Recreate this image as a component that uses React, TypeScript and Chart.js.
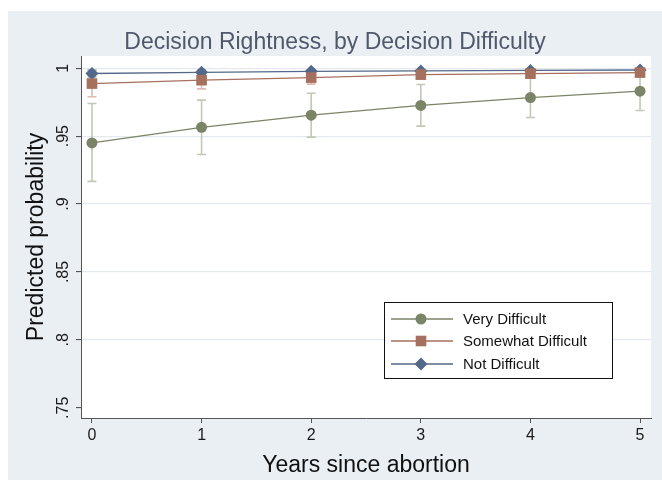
import React, { useEffect, useRef } from 'react';
import { Chart, registerables } from 'chart.js';
Chart.register(...registerables);

const TITLE = 'Decision Rightness, by Decision Difficulty';
const X_TITLE = 'Years since abortion';
const Y_TITLE = 'Predicted probability';

const YEARS = [0, 1, 2, 3, 4, 5];
const SERIES_LABELS = ['Very Difficult', 'Somewhat Difficult', 'Not Difficult'];

const VERY = [0.945, 0.9565, 0.9654, 0.9726, 0.9784, 0.9831];
const VERY_LO = [0.9167, 0.9365, 0.9493, 0.9574, 0.9637, 0.9689];
const VERY_HI = [0.974, 0.9765, 0.9816, 0.988, 0.9928, 0.9973];

const SOMEWHAT = [0.9887, 0.9912, 0.9931, 0.9953, 0.996, 0.9968];
const SOMEWHAT_LO = [0.979, 0.9848, 0.9883, 0.992, 0.9938, 0.995];
const SOMEWHAT_HI = [0.9984, 0.9976, 0.9979, 0.9986, 0.9982, 0.9986];

const NOT = [0.9961, 0.997, 0.9977, 0.998, 0.9984, 0.9987];
const NOT_LO = [0.9935, 0.9953, 0.9966, 0.9972, 0.9976, 0.9978];
const NOT_HI = [0.9987, 0.9987, 0.9988, 0.9988, 0.9992, 0.9996];

const Y_TICKS = [0.75, 0.8, 0.85, 0.9, 0.95, 1];
const Y_TICK_LABELS = ['.75', '.8', '.85', '.9', '.95', '1'];

const COLORS = ['#7B8466', '#A6705F', '#54698A'];
const ERR_COLORS = ['#C3C8B6', '#E0BAB0', '#A9B4C4'];
const POINT_STYLES = ['circle', 'rect', 'rectRot'];
const POINT_RADII = [5.5, 7.5, 6.5];

const FONT = '"Liberation Sans", Arial, Helvetica, sans-serif';

export default function App() {
  const ref = useRef<HTMLCanvasElement>(null);

  useEffect(() => {
    const canvas = ref.current!;
    const values = [VERY, SOMEWHAT, NOT];
    const lows = [VERY_LO, SOMEWHAT_LO, NOT_LO];
    const highs = [VERY_HI, SOMEWHAT_HI, NOT_HI];

    const errBars = {
      id: 'errBars',
      beforeDatasetsDraw(chart: any) {
        const { ctx, scales } = chart;
        const xs = scales.x, ys = scales.y;
        ctx.save();
        for (let s = 0; s < 3; s++) {
          ctx.strokeStyle = ERR_COLORS[s];
          ctx.lineWidth = 1.6;
          for (let i = 0; i < YEARS.length; i++) {
            const px = xs.getPixelForValue(YEARS[i]);
            const lo = ys.getPixelForValue(lows[s][i]);
            const hi = ys.getPixelForValue(highs[s][i]);
            ctx.beginPath();
            ctx.moveTo(px, lo); ctx.lineTo(px, hi);
            ctx.moveTo(px - 4.5, lo); ctx.lineTo(px + 4.5, lo);
            ctx.moveTo(px - 4.5, hi); ctx.lineTo(px + 4.5, hi);
            ctx.stroke();
          }
        }
        ctx.restore();
      },
    };

    const drawMarker = (ctx: CanvasRenderingContext2D, s: number, x: number, y: number) => {
      ctx.fillStyle = COLORS[s];
      ctx.beginPath();
      if (s === 0) {
        ctx.arc(x, y, POINT_RADII[0], 0, Math.PI * 2);
      } else if (s === 1) {
        const h = POINT_RADII[1] * Math.SQRT1_2;
        ctx.rect(x - h, y - h, 2 * h, 2 * h);
      } else {
        const r = POINT_RADII[2];
        ctx.moveTo(x, y - r); ctx.lineTo(x + r, y); ctx.lineTo(x, y + r); ctx.lineTo(x - r, y); ctx.closePath();
      }
      ctx.fill();
    };

    const decor = {
      id: 'decor',
      beforeDraw(chart: any) {
        const { ctx, chartArea: a, width, height } = chart;
        ctx.save();
        ctx.fillStyle = '#EAEFF3';
        ctx.fillRect(0, 0, width, height);
        ctx.fillStyle = '#FFFFFF';
        ctx.fillRect(a.left, a.top, a.right - a.left, a.bottom - a.top);
        ctx.restore();
      },
      afterDraw(chart: any) {
        const { ctx, chartArea: a, width, scales } = chart;
        ctx.save();
        // title
        ctx.fillStyle = '#50586B';
        ctx.font = `23px ${FONT}`;
        ctx.textAlign = 'center';
        ctx.textBaseline = 'alphabetic';
        ctx.fillText(TITLE, width / 2, 38);
        // y tick labels
        ctx.fillStyle = '#1A1A1A';
        ctx.font = `16px ${FONT}`;
        Y_TICKS.forEach((v, i) => {
          const py = scales.y.getPixelForValue(v);
          ctx.save();
          ctx.translate(a.left - 13, py);
          ctx.rotate(-Math.PI / 2);
          ctx.textAlign = 'center';
          ctx.textBaseline = 'alphabetic';
          ctx.fillText(Y_TICK_LABELS[i], 0, 0);
          ctx.restore();
        });
        // y title
        ctx.fillStyle = '#111111';
        ctx.font = `23px ${FONT}`;
        ctx.save();
        ctx.translate(35, (a.top + a.bottom) / 2);
        ctx.rotate(-Math.PI / 2);
        ctx.textAlign = 'center';
        ctx.textBaseline = 'alphabetic';
        ctx.fillText(Y_TITLE, 0, 0);
        ctx.restore();
        // legend
        const lx = 376, ly = 291, lw = 228, lh = 76;
        ctx.fillStyle = '#FFFFFF';
        ctx.fillRect(lx, ly, lw, lh);
        ctx.strokeStyle = '#111111';
        ctx.lineWidth = 1;
        ctx.strokeRect(lx + 0.5, ly + 0.5, lw, lh);
        const rows = [308, 330, 353];
        ctx.font = `15px ${FONT}`;
        ctx.textAlign = 'left';
        ctx.textBaseline = 'middle';
        for (let s = 0; s < 3; s++) {
          const ry = rows[s];
          ctx.strokeStyle = COLORS[s];
          ctx.lineWidth = 1.3;
          ctx.beginPath();
          ctx.moveTo(lx + 7, ry); ctx.lineTo(lx + 69, ry);
          ctx.stroke();
          drawMarker(ctx, s, lx + 37, ry);
          ctx.fillStyle = '#111111';
          ctx.fillText(SERIES_LABELS[s], lx + 79, ry + 1);
        }
        ctx.restore();
      },
    };

    const datasets = [0, 1, 2].map((s) => ({
      label: SERIES_LABELS[s],
      data: YEARS.map((x, i) => ({ x, y: values[s][i] })),
      borderColor: COLORS[s],
      backgroundColor: COLORS[s],
      pointBackgroundColor: COLORS[s],
      pointBorderColor: COLORS[s],
      pointBorderWidth: 0,
      pointStyle: POINT_STYLES[s],
      pointRadius: POINT_RADII[s],
      borderWidth: 1.3,
      tension: 0,
      order: [2, 0, 1][s],
    }));

    const chart = new Chart(canvas, {
      type: 'line',
      data: { datasets },
      options: {
        animation: false,
        responsive: false,
        maintainAspectRatio: false,
        layout: { padding: { left: 0, right: 11, top: 45, bottom: 0 } },
        plugins: { legend: { display: false }, tooltip: { enabled: false }, title: { display: false } },
        scales: {
          x: {
            type: 'linear',
            min: -0.1,
            max: 5.1,
            afterBuildTicks: (scale: any) => { scale.ticks = YEARS.map((v) => ({ value: v })); },
            afterFit: (scale: any) => { scale.height = 62; },
            ticks: {
              autoSkip: false,
              maxRotation: 0,
              padding: 3,
              color: '#1A1A1A',
              font: { family: FONT, size: 16 },
              callback: (v: any) => String(v),
            },
            grid: { drawOnChartArea: false, drawTicks: true, tickLength: 5, tickColor: '#555555', tickWidth: 1 },
            border: { display: true, color: '#555555', width: 1 },
            title: {
              display: true,
              text: X_TITLE,
              color: '#111111',
              font: { family: FONT, size: 23, lineHeight: 1.2 },
              padding: { top: 0, bottom: 1 },
            },
          },
          y: {
            type: 'linear',
            min: 0.7425,
            max: 1.009,
            afterBuildTicks: (scale: any) => { scale.ticks = Y_TICKS.map((v) => ({ value: v })); },
            afterFit: (scale: any) => { scale.width = 73; },
            ticks: { display: false },
            grid: {
              color: (c: any) => (c.tick && c.tick.value <= 0.75 ? 'rgba(0,0,0,0)' : '#E3E9EF'),
              lineWidth: 1.2,
              drawTicks: true,
              tickLength: 5,
              tickColor: '#444444',
              tickWidth: 1,
            },
            border: { display: true, color: '#555555', width: 1 },
          },
        },
      } as any,
      plugins: [decor, errBars],
    });
    return () => chart.destroy();
  }, []);

  return (
    <div style={{ position: 'fixed', left: 8, top: 11, width: 654, height: 469 }}>
      <canvas ref={ref} width={654} height={469} style={{ display: 'block', width: 654, height: 469 }} />
    </div>
  );
}
